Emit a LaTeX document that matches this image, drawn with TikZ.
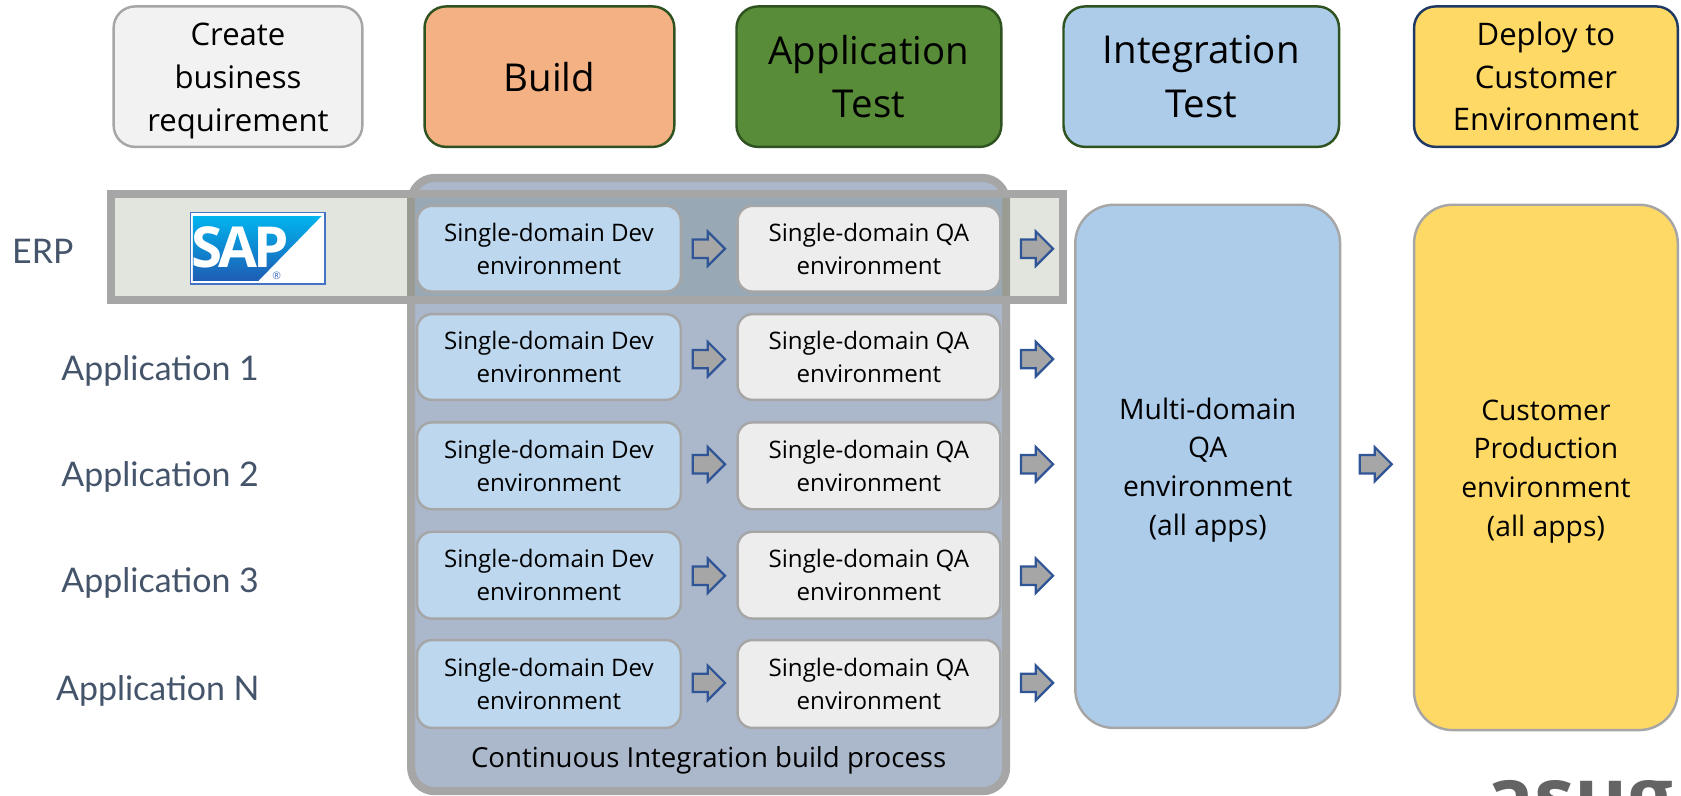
\documentclass[tikz,border=0pt]{standalone}
\usepackage{fontspec}
\setmainfont{Open Sans}
\newfontfamily\labfont{Lato}
\usetikzlibrary{shapes.arrows}
\definecolor{gb}{HTML}{A6A6A6}
\definecolor{erpbg}{HTML}{E2E5DE}
\definecolor{cibg}{HTML}{ABB7CB}
\definecolor{band}{HTML}{98A9B5}
\definecolor{bandedge}{HTML}{9A9C94}
\definecolor{devbg}{HTML}{BDD7EE}
\definecolor{qabg}{HTML}{EDEDED}
\definecolor{createbg}{HTML}{F2F2F2}
\definecolor{buildbg}{HTML}{F4B183}
\definecolor{greenbg}{HTML}{588C38}
\definecolor{greenln}{HTML}{2F5320}
\definecolor{navyln}{HTML}{1F3864}
\definecolor{bluebg}{HTML}{ADCCEA}
\definecolor{yelbg}{HTML}{FFD966}
\definecolor{arrowb}{HTML}{2F5597}
\definecolor{labc}{HTML}{44546A}
\definecolor{sapblue}{HTML}{4472C4}
\definecolor{saptop}{HTML}{00B4EE}
\definecolor{sapbot}{HTML}{1E5CB4}
\definecolor{logogray}{HTML}{646464}
\tikzset{
 x=0.02cm,y=-0.02cm,
 span/.style args={#1,#2,#3,#4}{at={({(#1+#3)/2},{(#2+#4)/2})},
   minimum width={(#3-#1)*0.02cm},minimum height={(#4-#2)*0.02cm}},
 box/.style={draw=gb,line width=1.3pt,inner sep=0pt,align=center,text=black},
 head/.style={box,rounded corners=0.4cm},
 hsmall/.style={head,font=\fontsize{16.5}{22.6}\selectfont},
 hbig/.style={head,font=\fontsize{20.4}{28.5}\selectfont},
 cell/.style={box,rounded corners=0.28cm,font=\fontsize{12.8}{17.6}\selectfont},
 big/.style={box,rounded corners=0.72cm,font=\fontsize{15}{20.5}\selectfont},
 flow/.style={single arrow,draw=arrowb,fill=gb,line width=1.2pt,inner sep=0pt,
   minimum height=0.6cm,minimum width=0.62cm,single arrow head extend=0.15cm,
   single arrow tip angle=90,single arrow head indent=0pt},
 rowlab/.style={text=labc,font=\labfont\fontsize{18}{22}\selectfont,inner sep=0pt,anchor=west},
}
\newcommand{\shaft}{\rule{0pt}{0.3cm}}
\begin{document}
\begin{tikzpicture}
\useasboundingbox (0,0) rectangle (1568,741.6);
\clip (0,0) rectangle (1568,741.6);
% headers
\node[hsmall,fill=createbg,span={106,6,338,137}] (create) {\rule{0pt}{16.5pt}Create\\business\\requirement};
\node[hbig,fill=buildbg,draw=greenln,span={396,6,629,137}] (build) {Build};
\node[hbig,fill=greenbg,draw=greenln,span={687,6,934,137}] (apptest) {Application\\Test};
\node[hbig,fill=bluebg,draw=greenln,span={992,6,1249,137}] (inttest) {Integration\\Test};
\node[hsmall,fill=yelbg,draw=navyln,span={1319,6,1565,137}] (deploy) {Deploy to\\Customer\\Environment};
% ERP band and CI box
\fill[erpbg] (103.5,181) rectangle (991.5,280);
\draw[draw=gb,fill=cibg,line width=4.3pt,rounded corners=0.44cm] (383.5,166) rectangle (938.5,738);
\fill[band] (387,185) rectangle (935,276);
\fill[bandedge] (380,185) rectangle (387,276);
\fill[bandedge] (935,185) rectangle (942,276);
\draw[draw=gb,line width=4.3pt] (103.5,181) rectangle (991.5,280);
% SAP logo
\draw[draw=sapblue,fill=white,line width=0.7pt] (177.5,198.5) rectangle (303,265);
\shade[top color=saptop,bottom color=sapbot]
  (180,201.5) -- (300,201.5) -- (241,262) -- (180,262) -- cycle;
\node[inner sep=0pt,text=white,font=\bfseries\fontsize{30}{30}\selectfont] (sap) at (224,231) {S\kern-.06em A\kern-.07em P};
\node[inner sep=0pt,text=sapblue,font=\fontsize{5.5}{6}\selectfont] (reg) at (258,257) {®};
% row labels
\node[rowlab] (erp) at (11,234) {ERP};
\node[rowlab] (lab1) at (57,346) {Application 1};
\node[rowlab] (lab2) at (57,445) {Application 2};
\node[rowlab] (lab3) at (57,544) {Application 3};
\node[rowlab] (lab4) at (52,644) {Application N};
% rows
\foreach \i/\t/\b in {0/192/272,1/293/373,2/394/475,3/496/577,4/597/679}{
  \node[cell,fill=devbg,span={389,\t,635,\b}] (dev\i) {Single-domain Dev\\environment};
  \node[cell,fill=qabg,span={688,\t,933,\b}] (qa\i) {Single-domain QA\\environment};
}
\node[big,fill=bluebg,span={1003,191,1250,679}] (multi) {\rule{0pt}{15pt}Multi-domain\\QA\\environment\\(all apps)};
\node[big,fill=yelbg,span={1319,191,1565,681}] (prod) {\rule{0pt}{15pt}Customer\\Production\\environment\\(all apps)};
\foreach \i/\y in {0/232,1/335,2/433,3/537,4/637}{
  \node[flow] (fa\i) at (657,\y) {\shaft};
  \node[flow] (fb\i) at (963,\y) {\shaft};
}
\node[flow] (fc) at (1279,433) {\shaft};
\node[inner sep=0pt,font=\fontsize{14.65}{18}\selectfont,text=black] (ci) at (661,709) {Continuous Integration build process};
% partial logo at the page edge
\node[inner sep=0pt,anchor=base west,text=logogray,font=\bfseries\fontsize{43}{46}\selectfont] (asug) at (1385,770) {asug};
\end{tikzpicture}
\end{document}
